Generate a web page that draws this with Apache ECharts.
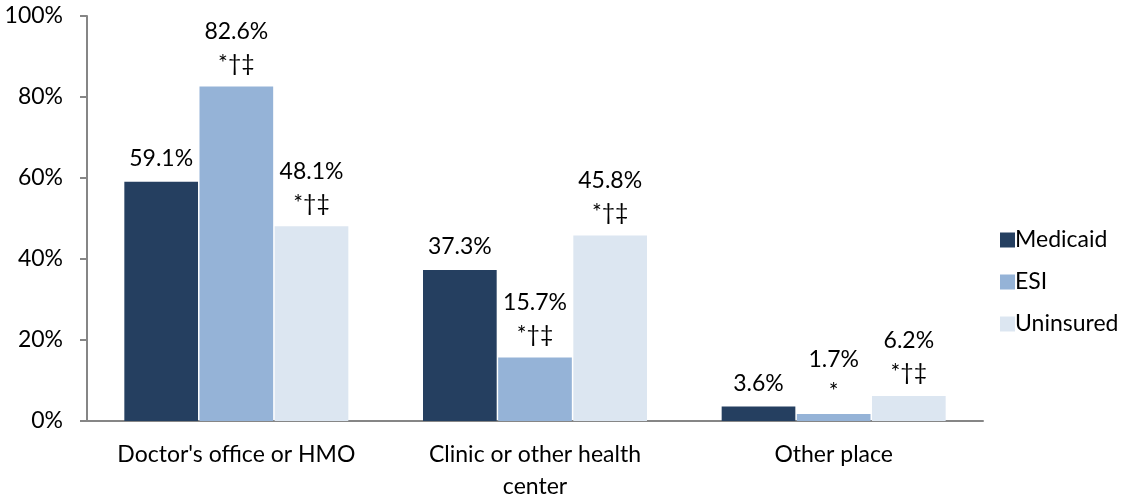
<!DOCTYPE html>
<html>
<head>
<meta charset="utf-8">
<script src="https://cdn.jsdelivr.net/npm/echarts@6/dist/echarts.min.js"></script>
<style>
  html, body { margin: 0; padding: 0; background: #fff; }
  #chart { width: 1126px; height: 499px; }
</style>
</head>
<body>
<div id="chart"></div>
<script>
// Usual source of care, by coverage type
const categories = ["Doctor's office or HMO", 'Clinic or other health\ncenter', 'Other place'];
const yTicks = [0, 20, 40, 60, 80, 100];

const medicaid = [59.1, 37.3, 3.6];
const esi = [82.6, 15.7, 1.7];
const uninsured = [48.1, 45.8, 6.2];

// Significance markers shown under each value
const medicaidMarks = ['', '', ''];
const esiMarks = ['*†‡', '*†‡', '*'];
const uninsuredMarks = ['*†‡', '*†‡', '*†‡'];

const FONT = 'Lato, "Open Sans", sans-serif';
const FS = 23;

function makeSeries(name, values, marks, color) {
  return {
    name: name,
    type: 'bar',
    data: values,
    barGap: '2%',
    barCategoryGap: '25%',
    itemStyle: { color: color },
    label: {
      show: true,
      position: 'top',
      distance: 7,
      color: '#000',
      fontFamily: FONT,
      fontSize: FS,
      lineHeight: 32,
      formatter: function (p) {
        const m = marks[p.dataIndex];
        return p.value.toFixed(1) + '%' + (m ? '\n' + m : '');
      }
    }
  };
}

const chart = echarts.init(document.getElementById('chart'));
chart.setOption({
  animation: false,
  grid: { left: 87, right: 143, top: 16, bottom: 78, containLabel: false, outerBoundsMode: 'none' },
  legend: {
    orient: 'vertical',
    left: 995,
    top: 223,
    itemWidth: 15,
    itemHeight: 15,
    itemGap: 18,
    icon: 'rect',
    textStyle: { fontFamily: FONT, fontSize: FS, lineHeight: 24, color: '#000', padding: [0, 0, 0, -5] },
    data: ['Medicaid', 'ESI', 'Uninsured']
  },
  xAxis: {
    type: 'category',
    data: categories,
    axisLine: { lineStyle: { color: '#868686', width: 2 } },
    axisTick: { show: false },
    axisLabel: {
      color: '#000',
      fontFamily: FONT,
      fontSize: FS,
      lineHeight: 32,
      margin: 18,
      interval: 0
    }
  },
  yAxis: {
    type: 'value',
    min: yTicks[0],
    max: yTicks[yTicks.length - 1],
    interval: 20,
    splitLine: { show: false },
    axisLine: { show: true, lineStyle: { color: '#868686', width: 2 } },
    axisTick: { show: true, inside: false, length: 7, lineStyle: { color: '#868686', width: 2 } },
    axisLabel: {
      color: '#000',
      fontFamily: FONT,
      fontSize: FS,
      margin: 24,
      formatter: function (v) { return yTicks.indexOf(v) >= 0 ? v + '%' : ''; }
    }
  },
  series: [
    makeSeries('Medicaid', medicaid, medicaidMarks, '#253f60'),
    makeSeries('ESI', esi, esiMarks, '#95b3d7'),
    makeSeries('Uninsured', uninsured, uninsuredMarks, '#dce6f1')
  ]
});
</script>
</body>
</html>
